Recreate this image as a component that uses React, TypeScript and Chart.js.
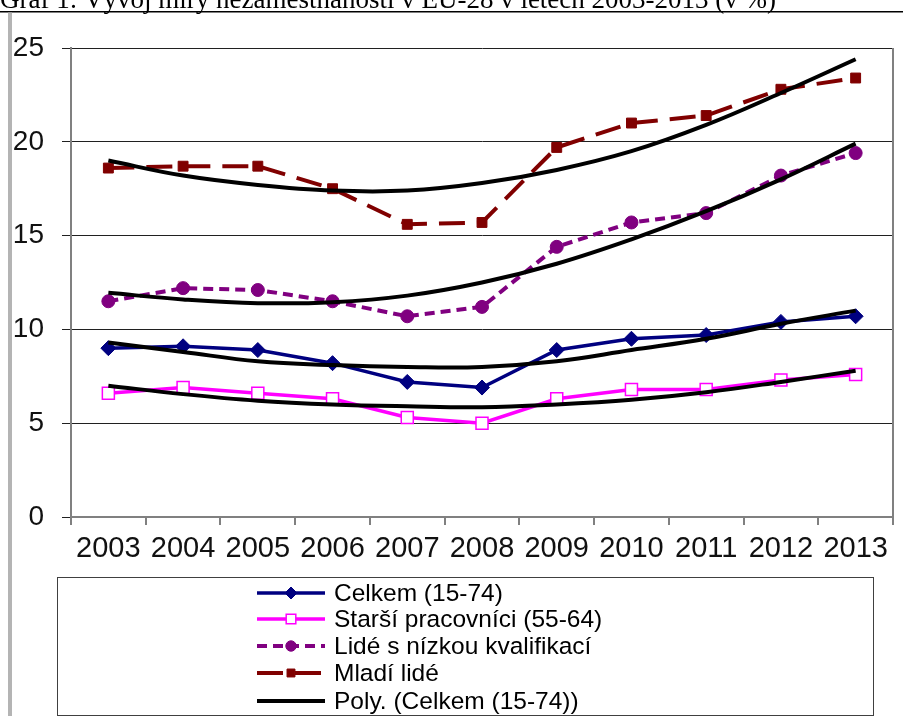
import React, { useEffect, useRef } from 'react';
import { Chart, registerables } from 'chart.js';

Chart.register(...registerables);

const titleText = 'Graf 1: Vývoj míry nezaměstnanosti v EU-28 v letech 2003-2013 (v %)';
const years = ['2003', '2004', '2005', '2006', '2007', '2008', '2009', '2010', '2011', '2012', '2013'];

const celkem = [9.0, 9.1, 8.9, 8.2, 7.2, 6.9, 8.9, 9.5, 9.7, 10.4, 10.7];
const starsi = [6.6, 6.9, 6.6, 6.3, 5.3, 5.0, 6.3, 6.8, 6.8, 7.3, 7.6];
const lide = [11.5, 12.2, 12.1, 11.5, 10.7, 11.2, 14.4, 15.7, 16.2, 18.2, 19.4];
const mladi = [18.6, 18.7, 18.7, 17.5, 15.6, 15.7, 19.7, 21.0, 21.4, 22.8, 23.4];

// Polynomial trend lines
const trendCelkem = [9.3, 8.8, 8.3, 8.1, 8.0, 8.0, 8.3, 8.9, 9.5, 10.3, 11.0];
const trendStarsi = [7.0, 6.55, 6.2, 6.0, 5.9, 5.85, 6.0, 6.25, 6.65, 7.2, 7.8];
const trendLide = [11.95, 11.6, 11.4, 11.45, 11.8, 12.5, 13.5, 14.8, 16.3, 18.0, 19.9];
const trendMladi = [19.0, 18.2, 17.7, 17.4, 17.4, 17.8, 18.5, 19.5, 20.9, 22.6, 24.4];

const seriesNames = [
  'Celkem (15-74)',
  'Starší pracovníci (55-64)',
  'Lidé s nízkou kvalifikací',
  'Mladí lidé',
  'Poly. (Celkem (15-74))',
];

const yMin = 0;
const yMax = 25;
const yStep = 5;

const FONT = '"Liberation Sans", Arial, sans-serif';

const frameAndTitle = {
  id: 'frameAndTitle',
  beforeDraw(chart: any) {
    const ctx = chart.ctx;
    ctx.save();
    ctx.fillStyle = '#ffffff';
    ctx.fillRect(0, 0, chart.width, chart.height);
    ctx.fillStyle = '#000000';
    ctx.font = '27px "Liberation Serif", "Times New Roman", serif';
    ctx.textBaseline = 'alphabetic';
    ctx.textAlign = 'left';
    ctx.fillText(titleText, 0, 7.5);
    ctx.strokeStyle = '#000000';
    ctx.lineWidth = 1.5;
    ctx.beginPath();
    ctx.moveTo(0, 11.75);
    ctx.lineTo(chart.width, 11.75);
    ctx.stroke();
    ctx.fillStyle = '#b4b4b4';
    ctx.fillRect(8, 12.5, 4, chart.height - 12);
    ctx.restore();
  },
  beforeDatasetsDraw(chart: any) {
    const ctx = chart.ctx;
    const a = chart.chartArea;
    ctx.save();
    ctx.strokeStyle = '#808080';
    ctx.lineWidth = 2;
    ctx.beginPath();
    ctx.moveTo(a.right, a.top);
    ctx.lineTo(a.right, a.bottom);
    ctx.stroke();
    ctx.restore();
  },
};

function drawMarker(ctx: CanvasRenderingContext2D, ds: any, x: number, y: number) {
  const style = ds.pointStyle;
  const r = ds.pointRadius;
  if (!r) return;
  ctx.save();
  ctx.setLineDash([]);
  ctx.fillStyle = ds.pointBackgroundColor;
  ctx.strokeStyle = ds.pointBorderColor;
  ctx.lineWidth = ds.pointBorderWidth;
  ctx.beginPath();
  if (style === 'rectRot') {
    ctx.moveTo(x, y - r);
    ctx.lineTo(x + r, y);
    ctx.lineTo(x, y + r);
    ctx.lineTo(x - r, y);
    ctx.closePath();
  } else if (style === 'rect') {
    const s = r * Math.SQRT1_2;
    ctx.rect(x - s, y - s, 2 * s, 2 * s);
  } else {
    ctx.arc(x, y, r, 0, Math.PI * 2);
  }
  ctx.fill();
  ctx.stroke();
  ctx.restore();
}

const boxLegend = {
  id: 'boxLegend',
  afterDraw(chart: any) {
    const ctx = chart.ctx;
    const boxL = 57.5;
    const boxT = 577.5;
    const boxR = 873.5;
    const boxB = 715.5;
    ctx.save();
    ctx.strokeStyle = '#404040';
    ctx.lineWidth = 1;
    ctx.strokeRect(boxL, boxT, boxR - boxL, boxB - boxT);
    const rows = [593, 619, 646, 673, 701];
    const lineX0 = 257;
    const lineX1 = 325;
    const textX = 334;
    const legendDatasets = chart.data.datasets.filter((d: any) => d.showInLegend);
    legendDatasets.forEach((ds: any, i: number) => {
      const y = rows[i];
      ctx.save();
      ctx.strokeStyle = ds.borderColor;
      ctx.lineWidth = ds.borderWidth;
      ctx.setLineDash(ds.borderDash || []);
      ctx.beginPath();
      ctx.moveTo(lineX0, y);
      ctx.lineTo(lineX1, y);
      ctx.stroke();
      ctx.restore();
      drawMarker(ctx, { ...ds, pointRadius: ds.pointRadius ? ds.pointRadius * 0.8 : 0 }, (lineX0 + lineX1) / 2, y);
      ctx.fillStyle = '#000000';
      ctx.font = '24.5px ' + FONT;
      ctx.textBaseline = 'middle';
      ctx.textAlign = 'left';
      ctx.fillText(ds.label, textX, y + 1);
    });
    ctx.restore();
  },
};

export default function App() {
  const canvasRef = useRef<HTMLCanvasElement | null>(null);

  useEffect(() => {
    if (!canvasRef.current) return;
    const trendBase = {
      borderColor: '#000000',
      backgroundColor: '#000000',
      borderWidth: 4,
      pointRadius: 0,
      pointHoverRadius: 0,
      tension: 0.4,
      fill: false,
      order: 0,
    };
    const chart = new Chart(canvasRef.current, {
      type: 'line',
      data: {
        labels: years,
        datasets: [
          {
            label: seriesNames[0],
            data: celkem,
            borderColor: '#000080',
            backgroundColor: '#000080',
            borderWidth: 3.5,
            pointStyle: 'rectRot',
            pointRadius: 7.5,
            pointBackgroundColor: '#000080',
            pointBorderColor: '#000080',
            pointBorderWidth: 1,
            tension: 0,
            order: 1,
            showInLegend: true,
          } as any,
          {
            label: seriesNames[1],
            data: starsi,
            borderColor: '#ff00ff',
            backgroundColor: '#ff00ff',
            borderWidth: 3.5,
            pointStyle: 'rect',
            pointRadius: 8.5,
            pointBackgroundColor: '#ffffff',
            pointBorderColor: '#ff00ff',
            pointBorderWidth: 1.5,
            tension: 0,
            order: 1,
            showInLegend: true,
          } as any,
          {
            label: seriesNames[2],
            data: lide,
            borderColor: '#800080',
            backgroundColor: '#800080',
            borderWidth: 4,
            borderDash: [10, 6],
            pointStyle: 'circle',
            pointRadius: 6.5,
            pointBackgroundColor: '#800080',
            pointBorderColor: '#800080',
            pointBorderWidth: 1,
            tension: 0,
            order: 1,
            showInLegend: true,
          } as any,
          {
            label: seriesNames[3],
            data: mladi,
            borderColor: '#800000',
            backgroundColor: '#800000',
            borderWidth: 4,
            borderDash: [26, 12],
            pointStyle: 'rect',
            pointRadius: 7,
            pointBackgroundColor: '#800000',
            pointBorderColor: '#800000',
            pointBorderWidth: 1,
            tension: 0,
            order: 1,
            showInLegend: true,
          } as any,
          { ...trendBase, label: seriesNames[4], data: trendCelkem, showInLegend: true } as any,
          { ...trendBase, label: 'trendStarsi', data: trendStarsi } as any,
          { ...trendBase, label: 'trendLide', data: trendLide } as any,
          { ...trendBase, label: 'trendMladi', data: trendMladi } as any,
        ],
      },
      options: {
        responsive: false,
        maintainAspectRatio: false,
        animation: false,
        events: [],
        layout: { padding: { left: 0, right: 1, top: 48, bottom: 139 } },
        plugins: {
          legend: { display: false },
          title: { display: false },
          tooltip: { enabled: false },
        },
        scales: {
          x: {
            type: 'category',
            offset: true,
            grid: {
              offset: true,
              drawOnChartArea: false,
              drawTicks: true,
              tickLength: 8,
              color: '#808080',
              lineWidth: 2,
            },
            border: { display: true, color: '#808080', width: 2 },
            ticks: {
              color: '#111111',
              font: { family: FONT, size: 29 },
              padding: 7,
              autoSkip: false,
              maxRotation: 0,
              minRotation: 0,
            },
            afterFit(scale: any) {
              scale.height = 60;
            },
          },
          y: {
            min: yMin,
            max: yMax,
            grid: {
              color: '#202020',
              lineWidth: 1,
              drawTicks: true,
              tickLength: 9,
            },
            border: { display: true, color: '#808080', width: 2 },
            ticks: {
              stepSize: yStep,
              color: '#111111',
              font: { family: FONT, size: 28 },
              padding: 18,
            },
            afterFit(scale: any) {
              scale.width = 71;
            },
          },
        },
      },
      plugins: [frameAndTitle, boxLegend],
    } as any);
    return () => chart.destroy();
  }, []);

  return (
    <div style={{ position: 'fixed', left: 0, top: 0, width: 903, height: 716, background: '#fff' }}>
      <canvas ref={canvasRef} width={903} height={716} style={{ width: 903, height: 716, display: 'block' }} />
    </div>
  );
}
